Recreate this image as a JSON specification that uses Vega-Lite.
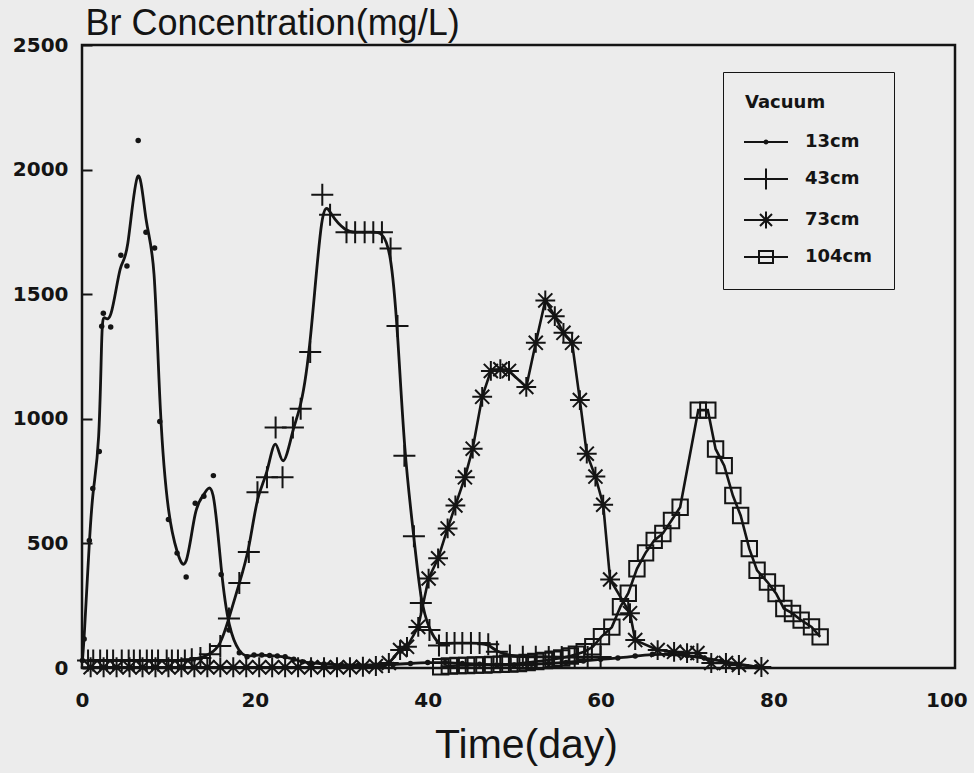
{
  "$schema": "https://vega.github.io/schema/vega-lite/v6.json",
  "autosize": {"type": "none"},
  "width": 873,
  "height": 623,
  "padding": {"left": 82, "top": 45, "right": 19, "bottom": 105},
  "background": "#ececec",
  "config": {
    "view": {"stroke": "#141414", "strokeWidth": 2.5},
    "axis": {"grid": false, "domain": false, "labelColor": "#141414", "titleColor": "#141414"}
  },
  "data": {
    "values": [
      {"s": "13cm", "t": 0.05, "c": 30}, {"s": "13cm", "t": 0.25, "c": 116}, {"s": "13cm", "t": 0.85, "c": 512},
      {"s": "13cm", "t": 1.25, "c": 720}, {"s": "13cm", "t": 2.0, "c": 869}, {"s": "13cm", "t": 2.28, "c": 1371},
      {"s": "13cm", "t": 2.47, "c": 1424}, {"s": "13cm", "t": 3.32, "c": 1368}, {"s": "13cm", "t": 4.5, "c": 1656},
      {"s": "13cm", "t": 5.2, "c": 1613}, {"s": "13cm", "t": 6.5, "c": 2117}, {"s": "13cm", "t": 7.4, "c": 1749},
      {"s": "13cm", "t": 8.4, "c": 1685}, {"s": "13cm", "t": 9.0, "c": 989}, {"s": "13cm", "t": 10.0, "c": 596},
      {"s": "13cm", "t": 11.0, "c": 461}, {"s": "13cm", "t": 12.05, "c": 365}, {"s": "13cm", "t": 13.1, "c": 661},
      {"s": "13cm", "t": 14.1, "c": 689}, {"s": "13cm", "t": 15.2, "c": 772}, {"s": "13cm", "t": 16.1, "c": 375},
      {"s": "13cm", "t": 17.0, "c": 152}, {"s": "13cm", "t": 18.2, "c": 61}, {"s": "13cm", "t": 19.1, "c": 45},
      {"s": "13cm", "t": 19.9, "c": 52}, {"s": "13cm", "t": 20.8, "c": 52}, {"s": "13cm", "t": 21.7, "c": 50},
      {"s": "13cm", "t": 22.6, "c": 48}, {"s": "13cm", "t": 23.5, "c": 45}, {"s": "13cm", "t": 24.5, "c": 35},
      {"s": "13cm", "t": 25.5, "c": 25}, {"s": "13cm", "t": 26.5, "c": 20}, {"s": "13cm", "t": 28, "c": 16},
      {"s": "13cm", "t": 30, "c": 12}, {"s": "13cm", "t": 32, "c": 12}, {"s": "13cm", "t": 34, "c": 12},
      {"s": "13cm", "t": 36, "c": 14}, {"s": "13cm", "t": 38, "c": 18}, {"s": "13cm", "t": 40, "c": 22},
      {"s": "13cm", "t": 42, "c": 22}, {"s": "13cm", "t": 44, "c": 18}, {"s": "13cm", "t": 46, "c": 15},
      {"s": "13cm", "t": 48, "c": 12}, {"s": "13cm", "t": 50, "c": 12}, {"s": "13cm", "t": 52, "c": 15},
      {"s": "13cm", "t": 54, "c": 18}, {"s": "13cm", "t": 56, "c": 22}, {"s": "13cm", "t": 58, "c": 28},
      {"s": "13cm", "t": 60, "c": 35}, {"s": "13cm", "t": 62, "c": 40}, {"s": "13cm", "t": 64, "c": 48},
      {"s": "13cm", "t": 66, "c": 55}, {"s": "13cm", "t": 68, "c": 55}, {"s": "13cm", "t": 70, "c": 50},
      {"s": "13cm", "t": 72, "c": 40}, {"s": "13cm", "t": 74, "c": 28}, {"s": "13cm", "t": 76, "c": 15},
      {"s": "13cm", "t": 78, "c": 5},

      {"s": "43cm", "t": 0.7, "c": 30}, {"s": "43cm", "t": 1.3, "c": 30}, {"s": "43cm", "t": 2.1, "c": 30},
      {"s": "43cm", "t": 2.9, "c": 30}, {"s": "43cm", "t": 3.6, "c": 30}, {"s": "43cm", "t": 4.6, "c": 30},
      {"s": "43cm", "t": 5.4, "c": 30}, {"s": "43cm", "t": 6.0, "c": 30}, {"s": "43cm", "t": 6.7, "c": 30},
      {"s": "43cm", "t": 7.5, "c": 30}, {"s": "43cm", "t": 8.1, "c": 30}, {"s": "43cm", "t": 8.8, "c": 30},
      {"s": "43cm", "t": 9.8, "c": 30}, {"s": "43cm", "t": 10.4, "c": 30}, {"s": "43cm", "t": 11.1, "c": 30},
      {"s": "43cm", "t": 11.9, "c": 30}, {"s": "43cm", "t": 12.7, "c": 35}, {"s": "43cm", "t": 13.7, "c": 40},
      {"s": "43cm", "t": 14.8, "c": 55}, {"s": "43cm", "t": 16.0, "c": 88}, {"s": "43cm", "t": 17.0, "c": 199},
      {"s": "43cm", "t": 18.2, "c": 341}, {"s": "43cm", "t": 19.3, "c": 465}, {"s": "43cm", "t": 20.3, "c": 705},
      {"s": "43cm", "t": 21.4, "c": 765}, {"s": "43cm", "t": 22.4, "c": 965}, {"s": "43cm", "t": 23.2, "c": 765},
      {"s": "43cm", "t": 24.4, "c": 965}, {"s": "43cm", "t": 25.3, "c": 1040}, {"s": "43cm", "t": 26.4, "c": 1268},
      {"s": "43cm", "t": 27.8, "c": 1899}, {"s": "43cm", "t": 28.7, "c": 1819}, {"s": "43cm", "t": 30.6, "c": 1749},
      {"s": "43cm", "t": 31.6, "c": 1749}, {"s": "43cm", "t": 32.7, "c": 1749}, {"s": "43cm", "t": 33.7, "c": 1749},
      {"s": "43cm", "t": 34.7, "c": 1749}, {"s": "43cm", "t": 35.7, "c": 1683}, {"s": "43cm", "t": 36.5, "c": 1372},
      {"s": "43cm", "t": 37.3, "c": 852}, {"s": "43cm", "t": 38.4, "c": 529}, {"s": "43cm", "t": 39.2, "c": 261},
      {"s": "43cm", "t": 40.2, "c": 152}, {"s": "43cm", "t": 41.3, "c": 90}, {"s": "43cm", "t": 42.2, "c": 100},
      {"s": "43cm", "t": 43.1, "c": 100}, {"s": "43cm", "t": 44.0, "c": 100}, {"s": "43cm", "t": 45.0, "c": 100},
      {"s": "43cm", "t": 46.0, "c": 100}, {"s": "43cm", "t": 47.0, "c": 95}, {"s": "43cm", "t": 48.0, "c": 65},
      {"s": "43cm", "t": 49.5, "c": 50}, {"s": "43cm", "t": 51.0, "c": 45}, {"s": "43cm", "t": 52.5, "c": 45},
      {"s": "43cm", "t": 54.0, "c": 44}, {"s": "43cm", "t": 55.5, "c": 44}, {"s": "43cm", "t": 57.0, "c": 44},
      {"s": "43cm", "t": 58.5, "c": 44}, {"s": "43cm", "t": 60.0, "c": 44},

      {"s": "73cm", "t": 1.0, "c": 3}, {"s": "73cm", "t": 2.5, "c": 3}, {"s": "73cm", "t": 4.0, "c": 3},
      {"s": "73cm", "t": 5.5, "c": 3}, {"s": "73cm", "t": 7.0, "c": 3}, {"s": "73cm", "t": 8.5, "c": 3},
      {"s": "73cm", "t": 10.0, "c": 3}, {"s": "73cm", "t": 11.5, "c": 3}, {"s": "73cm", "t": 13.0, "c": 3},
      {"s": "73cm", "t": 14.5, "c": 3}, {"s": "73cm", "t": 16.0, "c": 3}, {"s": "73cm", "t": 17.5, "c": 3},
      {"s": "73cm", "t": 19.0, "c": 3}, {"s": "73cm", "t": 20.5, "c": 3}, {"s": "73cm", "t": 22.0, "c": 3},
      {"s": "73cm", "t": 23.5, "c": 3}, {"s": "73cm", "t": 25.0, "c": 3}, {"s": "73cm", "t": 26.5, "c": 3},
      {"s": "73cm", "t": 28.0, "c": 3}, {"s": "73cm", "t": 29.5, "c": 3}, {"s": "73cm", "t": 31.0, "c": 3},
      {"s": "73cm", "t": 32.5, "c": 5}, {"s": "73cm", "t": 34.0, "c": 8}, {"s": "73cm", "t": 35.5, "c": 20},
      {"s": "73cm", "t": 36.8, "c": 72}, {"s": "73cm", "t": 37.6, "c": 85}, {"s": "73cm", "t": 38.9, "c": 165},
      {"s": "73cm", "t": 40.1, "c": 359}, {"s": "73cm", "t": 41.2, "c": 440}, {"s": "73cm", "t": 42.3, "c": 560},
      {"s": "73cm", "t": 43.2, "c": 652}, {"s": "73cm", "t": 44.3, "c": 765}, {"s": "73cm", "t": 45.2, "c": 880},
      {"s": "73cm", "t": 46.3, "c": 1088}, {"s": "73cm", "t": 47.3, "c": 1192}, {"s": "73cm", "t": 48.4, "c": 1199},
      {"s": "73cm", "t": 49.4, "c": 1192}, {"s": "73cm", "t": 51.4, "c": 1128}, {"s": "73cm", "t": 52.5, "c": 1305},
      {"s": "73cm", "t": 53.6, "c": 1475}, {"s": "73cm", "t": 54.7, "c": 1412}, {"s": "73cm", "t": 55.7, "c": 1345},
      {"s": "73cm", "t": 56.7, "c": 1305}, {"s": "73cm", "t": 57.6, "c": 1075}, {"s": "73cm", "t": 58.4, "c": 860},
      {"s": "73cm", "t": 59.4, "c": 768}, {"s": "73cm", "t": 60.3, "c": 655}, {"s": "73cm", "t": 61.1, "c": 355},
      {"s": "73cm", "t": 63.4, "c": 220}, {"s": "73cm", "t": 64.0, "c": 112}, {"s": "73cm", "t": 66.6, "c": 72},
      {"s": "73cm", "t": 68.5, "c": 65}, {"s": "73cm", "t": 70.0, "c": 60}, {"s": "73cm", "t": 71.2, "c": 60},
      {"s": "73cm", "t": 72.8, "c": 20}, {"s": "73cm", "t": 74.5, "c": 20}, {"s": "73cm", "t": 76.0, "c": 12},
      {"s": "73cm", "t": 78.6, "c": 4},

      {"s": "104cm", "t": 41.5, "c": 5}, {"s": "104cm", "t": 42.5, "c": 8}, {"s": "104cm", "t": 43.5, "c": 10},
      {"s": "104cm", "t": 44.5, "c": 10}, {"s": "104cm", "t": 45.5, "c": 12}, {"s": "104cm", "t": 46.5, "c": 12},
      {"s": "104cm", "t": 47.5, "c": 14}, {"s": "104cm", "t": 48.5, "c": 15}, {"s": "104cm", "t": 49.5, "c": 16},
      {"s": "104cm", "t": 50.5, "c": 18}, {"s": "104cm", "t": 51.5, "c": 22}, {"s": "104cm", "t": 52.5, "c": 26},
      {"s": "104cm", "t": 53.5, "c": 30}, {"s": "104cm", "t": 54.5, "c": 35}, {"s": "104cm", "t": 55.5, "c": 40},
      {"s": "104cm", "t": 56.5, "c": 48}, {"s": "104cm", "t": 57.2, "c": 55}, {"s": "104cm", "t": 58.1, "c": 65},
      {"s": "104cm", "t": 59.1, "c": 85}, {"s": "104cm", "t": 60.1, "c": 126}, {"s": "104cm", "t": 61.3, "c": 164},
      {"s": "104cm", "t": 62.3, "c": 246}, {"s": "104cm", "t": 63.2, "c": 300}, {"s": "104cm", "t": 64.2, "c": 398},
      {"s": "104cm", "t": 65.2, "c": 462}, {"s": "104cm", "t": 66.2, "c": 512}, {"s": "104cm", "t": 67.2, "c": 540},
      {"s": "104cm", "t": 68.2, "c": 592}, {"s": "104cm", "t": 69.2, "c": 645}, {"s": "104cm", "t": 71.3, "c": 1035},
      {"s": "104cm", "t": 72.4, "c": 1035}, {"s": "104cm", "t": 73.3, "c": 879}, {"s": "104cm", "t": 74.3, "c": 812},
      {"s": "104cm", "t": 75.3, "c": 692}, {"s": "104cm", "t": 76.2, "c": 612}, {"s": "104cm", "t": 77.2, "c": 479},
      {"s": "104cm", "t": 78.1, "c": 392}, {"s": "104cm", "t": 79.3, "c": 345}, {"s": "104cm", "t": 80.3, "c": 299},
      {"s": "104cm", "t": 81.2, "c": 239}, {"s": "104cm", "t": 82.2, "c": 219}, {"s": "104cm", "t": 83.2, "c": 192},
      {"s": "104cm", "t": 84.4, "c": 165}, {"s": "104cm", "t": 85.4, "c": 125}
    ]
  },
  "encoding": {
    "x": {
      "field": "t", "type": "quantitative",
      "scale": {"domain": [0, 101], "nice": false, "zero": false},
      "axis": {
        "values": [0, 20, 40, 60, 80, 100], "ticks": false, "labelPadding": 22, "labelFlush": false,
        "labelFont": "DejaVu Sans", "labelFontWeight": "bold", "labelFontSize": 20,
        "title": "Time(day)", "titleFont": "Liberation Sans", "titleFontWeight": "normal",
        "titleFontSize": 41, "titleX": 444, "titleY": 89, "titleAlign": "center",
        "titleBaseline": "alphabetic"
      }
    },
    "y": {
      "field": "c", "type": "quantitative",
      "scale": {"domain": [0, 2500], "nice": false},
      "axis": {
        "values": [0, 500, 1000, 1500, 2000, 2500], "format": "d", "labelFlush": false,
        "offset": -10, "tickSize": 10, "tickWidth": 2, "tickColor": "#141414", "labelPadding": 14,
        "labelFont": "DejaVu Sans", "labelFontWeight": "bold", "labelFontSize": 20,
        "title": "Br Concentration(mg/L)", "titleFont": "Liberation Sans",
        "titleFontWeight": "normal", "titleFontSize": 36, "titleAngle": 0,
        "titleAlign": "left", "titleBaseline": "alphabetic", "titleX": -7, "titleY": -11
      }
    }
  },
  "layer": [
    {
      "transform": [{"filter": "datum.s === '13cm' || datum.s === '43cm'"}],
      "mark": {"type": "line", "interpolate": "basis", "color": "#141414", "strokeWidth": 2.8},
      "encoding": {"detail": {"field": "s"}}
    },
    {
      "transform": [{"filter": "datum.s === '73cm' || datum.s === '104cm'"}],
      "mark": {"type": "line", "color": "#141414", "strokeWidth": 2.6},
      "encoding": {"detail": {"field": "s"}}
    },
    {
      "transform": [{"filter": "datum.s === '13cm'"}],
      "mark": {"type": "circle", "color": "#141414", "size": 30, "opacity": 1}
    },
    {
      "transform": [{"filter": "datum.s !== '13cm'"}],
      "mark": {"type": "point", "filled": false, "color": "#141414", "strokeWidth": 2, "size": 484, "opacity": 1},
      "encoding": {
        "shape": {
          "field": "s", "type": "nominal", "legend": null,
          "scale": {
            "domain": ["43cm", "73cm", "104cm"],
            "range": [
              "M-1,0H1M0,-1V1",
              "M-0.9,0H0.9M0,-0.9V0.9M-0.64,-0.64L0.64,0.64M-0.64,0.64L0.64,-0.64",
              "M-0.7,-0.7H0.7V0.7H-0.7Z"
            ]
          }
        }
      }
    },
    {
      "transform": [{"filter": "false"}],
      "mark": {"type": "point", "filled": false, "color": "#141414", "strokeWidth": 2, "size": 400, "opacity": 1},
      "encoding": {
        "shape": {
          "field": "s", "type": "nominal",
          "scale": {
            "domain": ["13cm", "43cm", "73cm", "104cm"],
            "range": [
              "M-2.2,0H2.2M-0.15,0A0.15,0.15 0 1,0 0.15,0A0.15,0.15 0 1,0 -0.15,0",
              "M-2.2,0H2.2M0,-1.05V1.05",
              "M-2.2,0H2.2M0,-0.85V0.85M-0.6,-0.6L0.6,0.6M-0.6,0.6L0.6,-0.6",
              "M-2.2,0H2.2M-0.7,-0.6H0.7V0.6H-0.7Z"
            ]
          },
          "legend": {
            "orient": "none", "legendX": 641, "legendY": 27,
            "title": "Vacuum", "titleFont": "DejaVu Sans", "titleFontWeight": "bold",
            "titleFontSize": 18, "titleColor": "#141414", "titlePadding": 19,
            "labelFont": "DejaVu Sans", "labelFontWeight": "bold", "labelFontSize": 18,
            "labelColor": "#141414", "labelOffset": 28,
            "symbolSize": 400, "symbolOffset": 10, "rowPadding": 13, "padding": 22,
            "symbolStrokeWidth": 2, "symbolStrokeColor": "#141414", "symbolFillColor": "transparent",
            "fillColor": "#ececec", "strokeColor": "#141414"
          }
        }
      }
    }
  ],
  "resolve": {"scale": {"shape": "independent"}, "legend": {"shape": "independent"}}
}
